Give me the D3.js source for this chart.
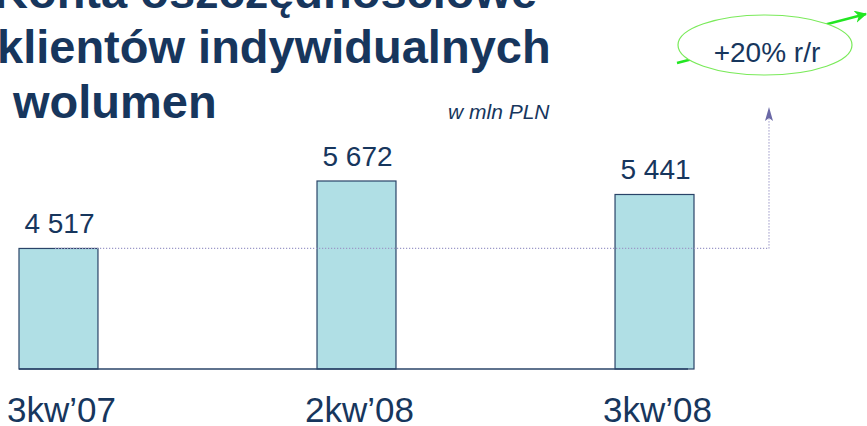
<!DOCTYPE html>
<html>
<head>
<meta charset="utf-8">
<script src="https://cdn.jsdelivr.net/npm/d3@7"></script>
<style>
  body { margin: 0; background: #fff; }
  svg { display: block; font-family: "Liberation Sans", Arial, sans-serif; }
</style>
</head>
<body>
<div id="chart"></div>
<script>
const titleLines = ["Konta oszczędnościowe", "klientów indywidualnych", "wolumen"];
const unitLabel = "w mln PLN";
const categories = ["3kw’07", "2kw’08", "3kw’08"];
const volumes = [4517, 5672, 5441];
const growthLabel = "+20% r/r";

const width = 867, height = 426;
const navy = "#17365d";

const svg = d3.select("#chart").append("svg")
    .attr("width", width)
    .attr("height", height);

const defs = svg.append("defs");
defs.append("marker")
    .attr("id", "greenHead")
    .attr("viewBox", "0 0 10 10")
    .attr("refX", 9).attr("refY", 5)
    .attr("markerWidth", 5).attr("markerHeight", 5)
    .attr("orient", "auto")
    .append("path")
    .attr("d", "M0,0L10,5L0,10L3,5Z")
    .attr("fill", "#22e622");

// title, cut off at the top like the slide
const titleX = [-6, -3, 13];
const titleY = [8, 63, 118];
svg.append("g").selectAll("text")
    .data(titleLines)
    .enter().append("text")
    .attr("x", (d, i) => titleX[i])
    .attr("y", (d, i) => titleY[i])
    .attr("font-size", 47)
    .attr("font-weight", "bold")
    .attr("fill", navy)
    .text(d => d);

svg.append("text")
    .attr("x", 448).attr("y", 119)
    .attr("font-size", 21)
    .attr("font-style", "italic")
    .attr("fill", navy)
    .text(unitLabel);

// scales
const x = d3.scaleBand()
    .domain(categories)
    .range([19, 694])
    .paddingInner(0.735)
    .paddingOuter(0);

const y = d3.scaleLinear()
    .domain([2453, 5672])
    .range([369, 181]);

const fmt = d3.formatLocale({decimal: ",", thousands: " ", grouping: [3], currency: ["", ""]}).format(",d");

// bars
svg.append("g").selectAll("rect")
    .data(volumes)
    .enter().append("rect")
    .attr("x", (d, i) => x(categories[i]))
    .attr("y", d => y(d))
    .attr("width", x.bandwidth())
    .attr("height", d => y.range()[0] - y(d))
    .attr("fill", "#b0dfe5")
    .attr("stroke", "#2a4468")
    .attr("stroke-width", 1.2);

// baseline
svg.append("line")
    .attr("x1", x(categories[0]))
    .attr("x2", x(categories[2]) + x.bandwidth() - 6)
    .attr("y1", y.range()[0]).attr("y2", y.range()[0])
    .attr("stroke", "#2a4468")
    .attr("stroke-width", 1.5);

// dotted reference at first value, turning up into an arrow
const refY = y(volumes[0]);
const dotColor = "#9c98c8";
svg.append("path")
    .attr("d", `M55,${refY}H769V116`)
    .attr("fill", "none")
    .attr("stroke", dotColor)
    .attr("stroke-width", 1.2)
    .attr("stroke-dasharray", "1.2,1.8");
svg.append("path")
    .attr("d", "M769,107L765,121L769,118L773,121Z")
    .attr("fill", "#6a68a6");

// value labels
svg.append("g").selectAll("text")
    .data(volumes)
    .enter().append("text")
    .attr("x", (d, i) => x(categories[i]) + x.bandwidth() / 2 + 1)
    .attr("y", d => y(d) - 15)
    .attr("text-anchor", "middle")
    .attr("font-size", 28)
    .attr("fill", navy)
    .text(d => fmt(d));

// category labels
svg.append("g").selectAll("text")
    .data(categories)
    .enter().append("text")
    .attr("x", d => x(d) + x.bandwidth() / 2 + 3)
    .attr("y", 422)
    .attr("text-anchor", "middle")
    .attr("font-size", 35)
    .attr("fill", navy)
    .text(d => d);

// growth bubble
svg.append("line")
    .attr("x1", 677).attr("y1", 63)
    .attr("x2", 866).attr("y2", 14)
    .attr("stroke", "#22e622")
    .attr("stroke-width", 2.5)
    .attr("marker-end", "url(#greenHead)");
svg.append("ellipse")
    .attr("cx", 765).attr("cy", 45)
    .attr("rx", 87).attr("ry", 30)
    .attr("fill", "#fff")
    .attr("stroke", "#7aea5a")
    .attr("stroke-width", 1.2);
svg.append("text")
    .attr("x", 767).attr("y", 62)
    .attr("text-anchor", "middle")
    .attr("font-size", 28)
    .attr("fill", navy)
    .text(growthLabel);
</script>
</body>
</html>
